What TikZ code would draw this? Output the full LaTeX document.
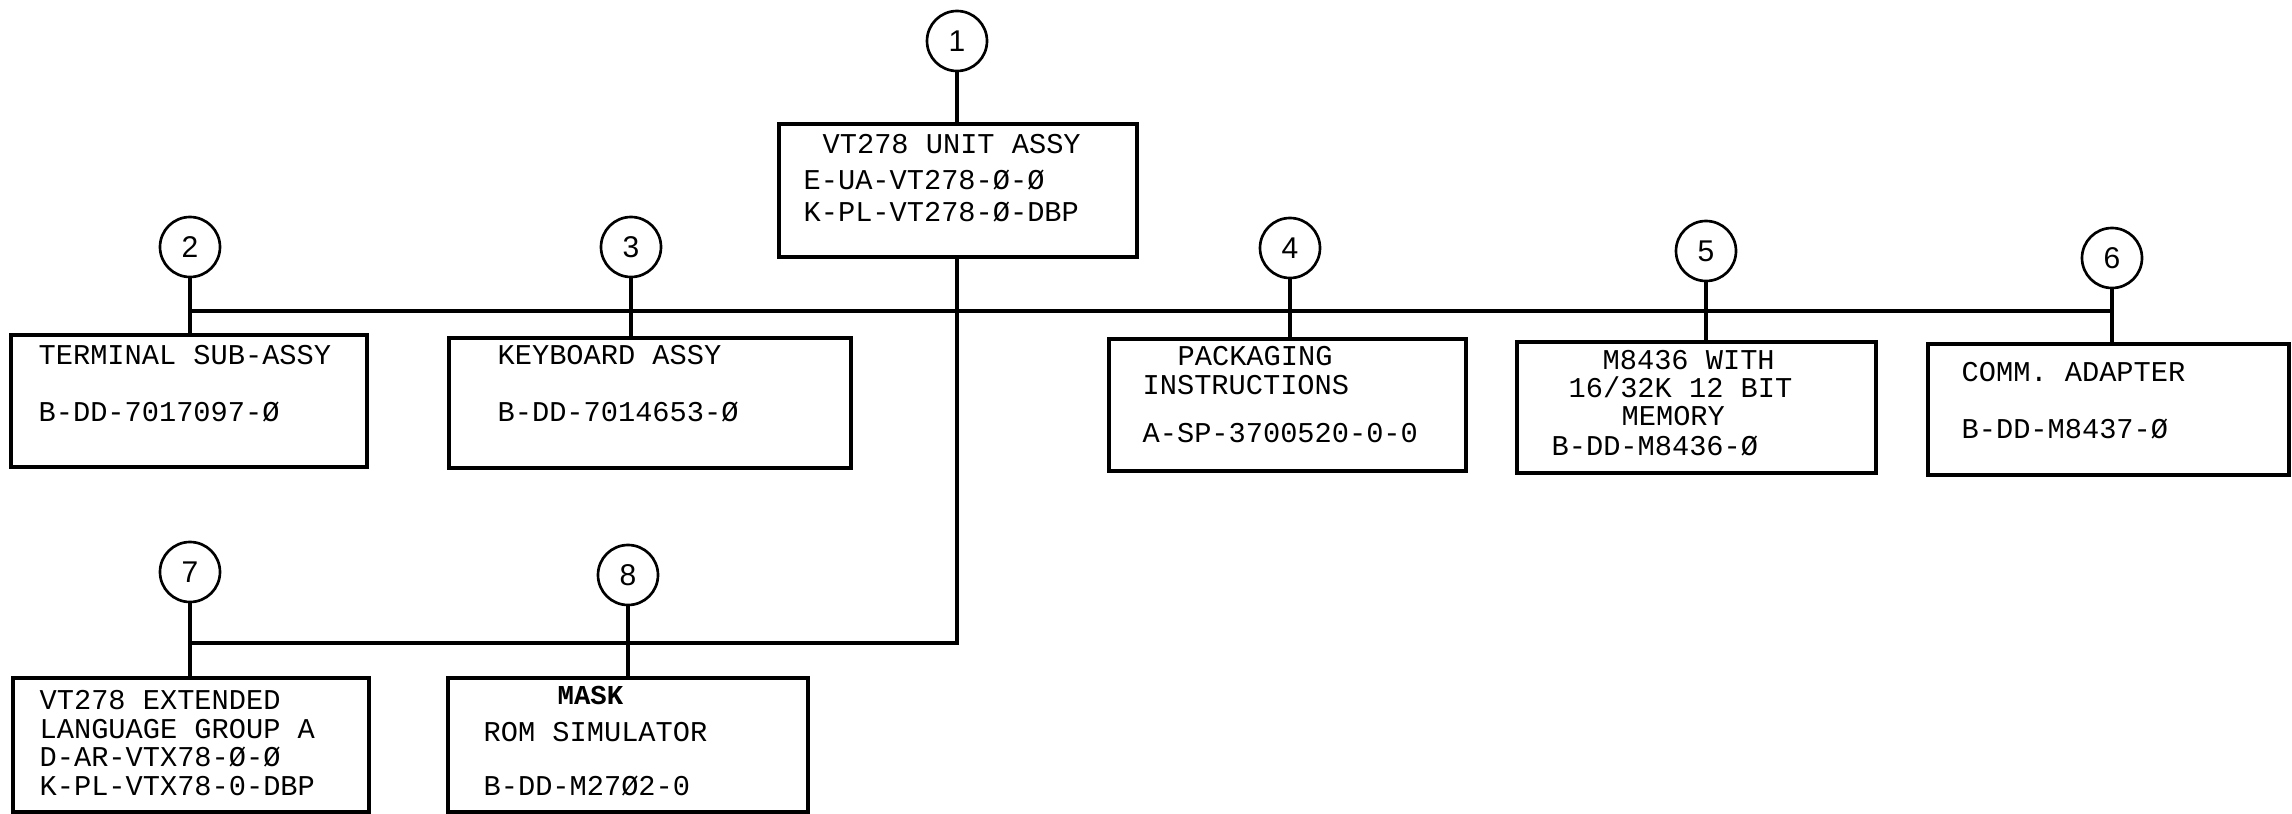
\documentclass[tikz,border=0pt]{standalone}
\usepackage{fontspec}
\setmonofont{Liberation Mono}
\newfontfamily\numfont{Liberation Sans}
\usepackage{tikz}
\usetikzlibrary{positioning,calc}

\begin{document}
\begin{tikzpicture}[x=0.3pt,y=-0.3pt,
    part/.style={draw,rectangle,line width=1pt,inner sep=0pt},
    num/.style={draw,circle,line width=0.8pt,minimum size=18pt,inner sep=0pt,font=\numfont\fontsize{9}{10}\selectfont},
    txt/.style={anchor=base west,inner sep=0pt,font=\ttfamily\fontsize{8.6}{10}\selectfont},
    link/.style={line width=1pt}]
        \useasboundingbox (0,0) rectangle (2292,814);
        % assemblies
        \node[part,minimum width=358*0.3pt,minimum height=133*0.3pt] (unit) at (958,190.5) {};
        \node[part,minimum width=356*0.3pt,minimum height=132*0.3pt] (term) at (189,401) {};
        \node[part,minimum width=402*0.3pt,minimum height=130*0.3pt] (kbd) at (650,403) {};
        \node[part,minimum width=357*0.3pt,minimum height=132*0.3pt] (pack) at (1287.5,405) {};
        \node[part,minimum width=359*0.3pt,minimum height=131*0.3pt] (mem) at (1696.5,407.5) {};
        \node[part,minimum width=361*0.3pt,minimum height=131*0.3pt] (comm) at (2108.5,409.5) {};
        \node[part,minimum width=356*0.3pt,minimum height=134*0.3pt] (lang) at (191,745) {};
        \node[part,minimum width=360*0.3pt,minimum height=134*0.3pt] (rom) at (628,745) {};
        % item numbers
        \node[num] (n1) at (957,41) {1};
        \node[num] (n2) at (190,247) {2};
        \node[num] (n3) at (631,247) {3};
        \node[num] (n4) at (1290,248) {4};
        \node[num] (n5) at (1706,251) {5};
        \node[num] (n6) at (2112,258) {6};
        \node[num] (n7) at (190,572) {7};
        \node[num] (n8) at (628,575) {8};
        % texts
        \node[txt] (unit1) at (822,153) {VT278 UNIT ASSY};
        \node[txt] (unit2) at (803,189) {E-UA-VT278-Ø-Ø};
        \node[txt] (unit3) at (803,221) {K-PL-VT278-Ø-DBP};
        \node[txt] (term1) at (38,364) {TERMINAL SUB-ASSY};
        \node[txt] (term2) at (38,421) {B-DD-7017097-Ø};
        \node[txt] (kbd1) at (497,364) {KEYBOARD ASSY};
        \node[txt] (kbd2) at (497,421) {B-DD-7014653-Ø};
        \node[txt] (pack1) at (1177,365) {PACKAGING};
        \node[txt] (pack2) at (1142,394) {INSTRUCTIONS};
        \node[txt] (pack3) at (1142,442) {A-SP-3700520-0-0};
        \node[txt] (mem1) at (1602,369) {M8436 WITH};
        \node[txt] (mem2) at (1568,397) {16/32K 12 BIT};
        \node[txt] (mem3) at (1621,425) {MEMORY};
        \node[txt] (mem4) at (1551,455) {B-DD-M8436-Ø};
        \node[txt] (comm1) at (1961,381) {COMM. ADAPTER};
        \node[txt] (comm2) at (1961,438) {B-DD-M8437-Ø};
        \node[txt] (lang1) at (39,709) {VT278 EXTENDED};
        \node[txt] (lang2) at (39,738) {LANGUAGE GROUP A};
        \node[txt] (lang3) at (39,766) {D-AR-VTX78-Ø-Ø};
        \node[txt] (lang4) at (39,795) {K-PL-VTX78-0-DBP};
        \node[txt,font=\ttfamily\bfseries\fontsize{8.2}{10}\selectfont] (rom1) at (557,704) {MASK};
        \node[txt] (rom2) at (483,741) {ROM SIMULATOR};
        \node[txt] (rom3) at (483,795) {B-DD-M27Ø2-0};
        % bus lines
        \coordinate (top) at (0,311);
        \coordinate (low) at (0,643);
        \draw[link] (n1.south) -- (n1.south |- unit.north);
        \draw[link] (n2.south |- top) -- (n6.south |- top);
        \draw[link] (n1.south |- unit.south) -- (n1.south |- low) -- (n7.south |- low);
        \draw[link] (n2.south) -- (n2.south |- term.north);
        \draw[link] (n3.south) -- (n3.south |- kbd.north);
        \draw[link] (n4.south) -- (n4.south |- pack.north);
        \draw[link] (n5.south) -- (n5.south |- mem.north);
        \draw[link] (n6.south) -- (n6.south |- comm.north);
        \draw[link] (n7.south) -- (n7.south |- lang.north);
        \draw[link] (n8.south) -- (n8.south |- rom.north);
      \end{tikzpicture}
\end{document}
